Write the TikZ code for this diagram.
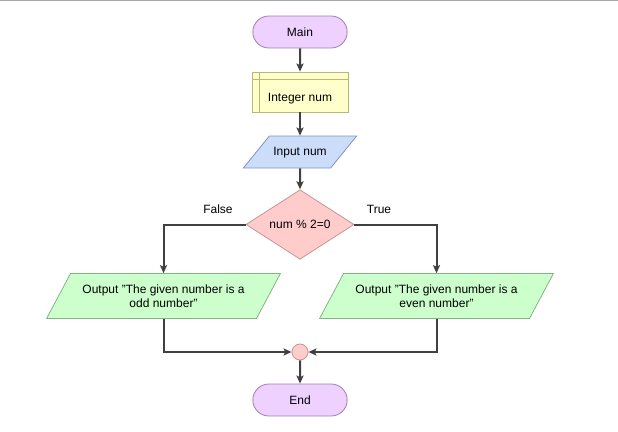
\documentclass[tikz,border=0pt]{standalone}
\usepackage{fontspec}
\setmainfont{Liberation Sans}
\usetikzlibrary{shapes.geometric,shapes.misc,arrows.meta}
\definecolor{termfill}{HTML}{EFD1FF}
\definecolor{termline}{HTML}{A27CB4}
\definecolor{declfill}{HTML}{FFFFCC}
\definecolor{declline}{HTML}{B9B976}
\definecolor{inpfill}{HTML}{CCDDFA}
\definecolor{inpline}{HTML}{7F93C8}
\definecolor{decfill}{HTML}{FFCCCC}
\definecolor{decline}{HTML}{C99393}
\definecolor{outfill}{HTML}{CCFFCC}
\definecolor{outline}{HTML}{84B484}
\definecolor{flowgray}{HTML}{404040}
\begin{document}
\begin{tikzpicture}[x = 1pt, y = -1pt, font = \fontsize{12}{14}\selectfont,
	term/.style={rounded rectangle, draw=termline, fill=termfill, line width=.8pt, minimum width=101, minimum height=32},
	decl/.style={rectangle, draw=declline, fill=declfill, line width=.8pt, minimum width=96, minimum height=40, text height=19pt, text depth=0pt},
	inp/.style={trapezium, trapezium left angle=51, trapezium right angle=129, draw=inpline, fill=inpfill, line width=.8pt, text height=9pt, text depth=3pt, inner ysep=10pt, inner xsep=4pt},
	dec/.style={diamond, draw=decline, fill=decfill, line width=.8pt, minimum width=108, minimum height=63, inner sep=0pt},
	outp/.style={trapezium, trapezium left angle=62, trapezium right angle=118, draw=outline, fill=outfill, line width=.8pt, align=center, inner ysep=11pt, inner xsep=12pt},
	joint/.style={circle, draw=decline, fill=decfill, line width=.8pt, minimum size=16, inner sep=0pt},
	flow/.style={draw=flowgray, line width=2pt, -{Stealth[length=8pt, width=7pt, inset=1.5pt]}}]

\useasboundingbox (0,0) rectangle (618,431);
\draw[black!35, line width=1pt] (0,.5) -- (618,.5);

\node[term] (main) at (300,32) {Main};
\node[decl] (decl) at (300,92) {Integer num};
\draw[declline, line width=.8pt] ([yshift=-8pt]decl.north west) -- ([yshift=-8pt]decl.north east);
\draw[declline, line width=.8pt] ([xshift=8pt]decl.north west) -- ([xshift=8pt]decl.south west);
\node[inp] (input) at (300,152) {Input num};
\node[dec] (cond) at (300,224.5) {num \% 2=0};
\node (no) at (218,209) {False};
\node (yes) at (379,209) {True};
\node[outp] (odd) at (163.5,296) {Output "The given number is a\\odd number"};
\node[outp] (even) at (436.5,296) {Output "The given number is a\\even number"};
\node[joint] (merge) at (300,352) {};
\node[term] (stop) at (300,400) {End};

\draw[flow] (main) -- (decl);
\draw[flow] (decl) -- (input);
\draw[flow] (input) -- (cond);
\draw[flow] (cond.west) -| (odd.north);
\draw[flow] (cond.east) -| (even.north);
\draw[flow] (odd.south) |- (merge.west);
\draw[flow] (even.south) |- (merge.east);
\draw[flow] (merge) -- (stop);
\end{tikzpicture}
\end{document}
